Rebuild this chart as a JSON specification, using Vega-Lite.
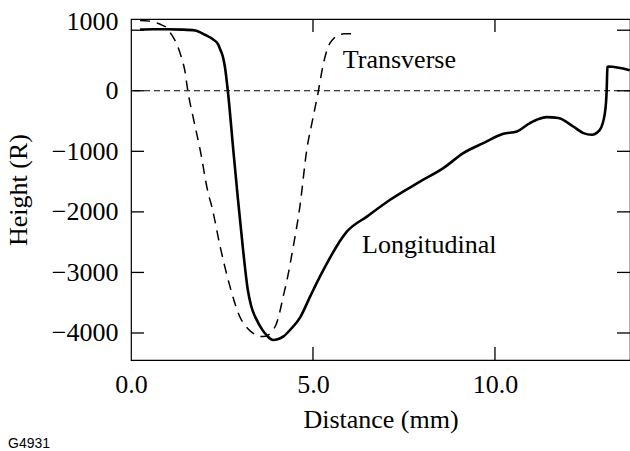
{
  "$schema": "https://vega.github.io/schema/vega-lite/v6.json",
  "width": 499,
  "height": 341,
  "autosize": {"type": "none"},
  "padding": {"left": 131, "top": 19, "right": 0, "bottom": 91},
  "background": "white",
  "title": {"text": "G4931", "orient": "bottom", "anchor": "start", "frame": "group", "font": "Liberation Sans", "fontSize": 14, "fontWeight": "normal", "color": "black", "dx": -123, "offset": 5},
  "config": {
    "view": {"stroke": "black", "strokeWidth": 1.2},
    "font": "Liberation Serif",
    "axis": {"domain": false, "grid": false, "ticks": false, "labelFlush": false, "labelOverlap": false, "labelFont": "Liberation Serif", "labelFontSize": 26, "labelColor": "black", "titleFont": "Liberation Serif", "titleFontSize": 26, "titleFontWeight": "normal", "titleColor": "black"}
  },
  "resolve": {"axis": {"x": "independent", "y": "independent"}},
  "datasets": {
    "yticks": [{"v": 1000}, {"v": 0}, {"v": -1000}, {"v": -2000}, {"v": -3000}, {"v": -4000}],
    "xticks": [{"v": 5}, {"v": 10}]
  },
  "layer": [
    {
      "data": {"values": [{"y": 0}]},
      "mark": {"type": "rule", "color": "black", "strokeWidth": 1, "strokeDash": [6, 4]},
      "encoding": {"y": {"field": "y", "type": "quantitative", "axis": null, "scale": {"domain": [-4446, 1185], "nice": false, "zero": false}}}
    },
    {
      "data": {"values": [
        {"d": 0.25, "h": 1010}, {"d": 0.6, "h": 1015}, {"d": 1.0, "h": 1015}, {"d": 1.4, "h": 1010}, {"d": 1.76, "h": 995},
        {"d": 2.03, "h": 925}, {"d": 2.25, "h": 850}, {"d": 2.39, "h": 770}, {"d": 2.46, "h": 670}, {"d": 2.53, "h": 550},
        {"d": 2.58, "h": 397}, {"d": 2.66, "h": 0}, {"d": 2.81, "h": -975}, {"d": 2.94, "h": -1800}, {"d": 3.08, "h": -2630},
        {"d": 3.21, "h": -3290}, {"d": 3.3, "h": -3550}, {"d": 3.45, "h": -3780}, {"d": 3.6, "h": -3940}, {"d": 3.73, "h": -4040},
        {"d": 3.9, "h": -4115}, {"d": 4.05, "h": -4100}, {"d": 4.18, "h": -4060}, {"d": 4.4, "h": -3930}, {"d": 4.64, "h": -3750},
        {"d": 4.92, "h": -3400}, {"d": 5.19, "h": -3070}, {"d": 5.93, "h": -2326}, {"d": 6.5, "h": -2070}, {"d": 7.12, "h": -1800},
        {"d": 7.94, "h": -1500}, {"d": 8.58, "h": -1278}, {"d": 9.13, "h": -1030}, {"d": 9.68, "h": -865}, {"d": 10.23, "h": -711},
        {"d": 10.6, "h": -672}, {"d": 10.96, "h": -534}, {"d": 11.2, "h": -465}, {"d": 11.42, "h": -435}, {"d": 11.74, "h": -451},
        {"d": 12.15, "h": -590}, {"d": 12.43, "h": -700}, {"d": 12.66, "h": -727}, {"d": 12.88, "h": -645}, {"d": 13.02, "h": -369},
        {"d": 13.07, "h": 17}, {"d": 13.09, "h": 392}, {"d": 13.12, "h": 400}, {"d": 13.7, "h": 340}
      ]},
      "mark": {"type": "line", "color": "black", "strokeWidth": 2.6, "interpolate": "monotone"},
      "encoding": {
        "x": {"field": "d", "type": "quantitative", "scale": {"domain": [0, 13.71], "nice": false, "zero": false},
              "axis": {"orient": "bottom", "values": [0, 5, 10], "format": ".1f", "labelPadding": 11, "title": "Distance (mm)", "titlePadding": 9}},
        "y": {"field": "h", "type": "quantitative", "scale": {"domain": [-4446, 1185], "nice": false, "zero": false},
              "axis": {"orient": "left", "values": [1000, 0, -1000, -2000, -3000, -4000], "format": "d", "labelPadding": 13, "labelOffset": {"expr": "datum.value === 1000 ? -9 : 0"}, "title": "Height (R)", "titlePadding": 20}}
      }
    },
    {
      "data": {"values": [
        {"d": 0.25, "h": 1160}, {"d": 0.5, "h": 1150}, {"d": 0.7, "h": 1120}, {"d": 0.85, "h": 1085}, {"d": 1.0, "h": 1030},
        {"d": 1.1, "h": 940}, {"d": 1.2, "h": 840}, {"d": 1.3, "h": 705}, {"d": 1.4, "h": 520}, {"d": 1.48, "h": 330},
        {"d": 1.56, "h": 0}, {"d": 1.73, "h": -500}, {"d": 1.9, "h": -975}, {"d": 2.12, "h": -1690}, {"d": 2.22, "h": -1912},
        {"d": 2.45, "h": -2574}, {"d": 2.72, "h": -3235}, {"d": 2.99, "h": -3731}, {"d": 3.2, "h": -3920}, {"d": 3.36, "h": -4006},
        {"d": 3.55, "h": -4060}, {"d": 3.7, "h": -4055}, {"d": 3.86, "h": -3979}, {"d": 4.0, "h": -3840}, {"d": 4.09, "h": -3648},
        {"d": 4.18, "h": -3400}, {"d": 4.26, "h": -3200}, {"d": 4.45, "h": -2600}, {"d": 4.64, "h": -1912}, {"d": 4.83, "h": -975},
        {"d": 5.0, "h": -450}, {"d": 5.15, "h": 0}, {"d": 5.28, "h": 430}, {"d": 5.42, "h": 730}, {"d": 5.55, "h": 850},
        {"d": 5.7, "h": 920}, {"d": 5.85, "h": 940}, {"d": 6.1, "h": 940}
      ]},
      "mark": {"type": "line", "color": "black", "strokeWidth": 1.5, "strokeDash": [10, 7], "interpolate": "monotone"},
      "encoding": {
        "x": {"field": "d", "type": "quantitative", "axis": null},
        "y": {"field": "h", "type": "quantitative", "axis": null}
      }
    },
    {
      "data": {"values": [
        {"d": 5.82, "h": 512, "label": "Transverse"},
        {"d": 6.35, "h": -2545, "label": "Longitudinal"}
      ]},
      "mark": {"type": "text", "align": "left", "baseline": "middle", "font": "Liberation Serif", "fontSize": 26, "color": "black"},
      "encoding": {
        "x": {"field": "d", "type": "quantitative", "axis": null},
        "y": {"field": "h", "type": "quantitative", "axis": null},
        "text": {"field": "label"}
      }
    },
    {
      "data": {"name": "yticks"},
      "mark": {"type": "tick", "orient": "horizontal", "color": "black", "thickness": 1.3, "size": 13, "opacity": 1},
      "encoding": {
        "y": {"field": "v", "type": "quantitative", "axis": null},
        "x": {"datum": 0.1785, "type": "quantitative", "axis": null}
      }
    },
    {
      "data": {"name": "yticks"},
      "mark": {"type": "tick", "orient": "horizontal", "color": "black", "thickness": 1.3, "size": 13, "opacity": 1},
      "encoding": {
        "y": {"field": "v", "type": "quantitative", "axis": null},
        "x": {"datum": 13.5315, "type": "quantitative", "axis": null}
      }
    },
    {
      "data": {"name": "xticks"},
      "mark": {"type": "tick", "orient": "vertical", "color": "black", "thickness": 1.3, "size": 13, "opacity": 1},
      "encoding": {
        "x": {"field": "v", "type": "quantitative", "axis": null},
        "y": {"datum": -4338.5, "type": "quantitative", "axis": null}
      }
    },
    {
      "data": {"name": "xticks"},
      "mark": {"type": "tick", "orient": "vertical", "color": "black", "thickness": 1.3, "size": 13, "opacity": 1},
      "encoding": {
        "x": {"field": "v", "type": "quantitative", "axis": null},
        "y": {"datum": 1077.5, "type": "quantitative", "axis": null}
      }
    }
  ]
}
